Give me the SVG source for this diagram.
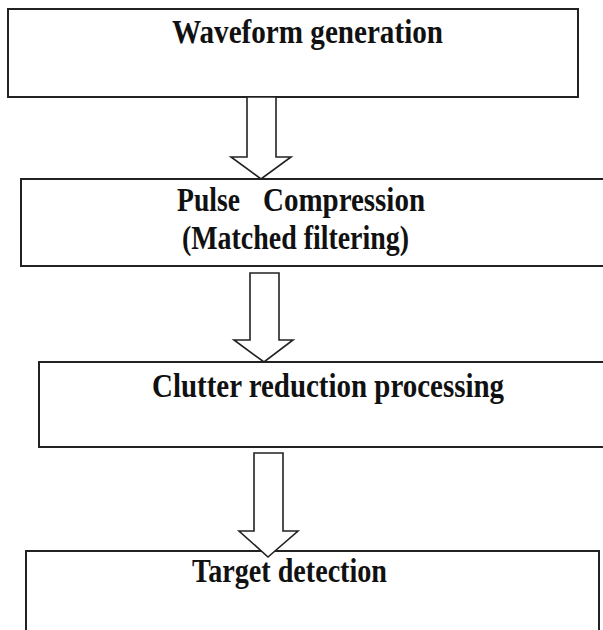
<svg xmlns="http://www.w3.org/2000/svg" width="603" height="630" viewBox="0 0 603 630">
<style>
.box{fill:#fff;stroke:#222;stroke-width:2}
.arr{fill:#fff;stroke:#222;stroke-width:1.6;stroke-linejoin:miter}
.t{font-family:"Liberation Serif","Times New Roman",serif;font-weight:bold;font-size:33px;fill:#111}
</style>
<rect width="603" height="630" fill="#fff"/>
<g id="node1">
<rect class="box" x="8" y="9" width="570" height="88"/>
<text class="t" x="172" y="43" textLength="271" lengthAdjust="spacingAndGlyphs">Waveform generation</text>
</g>
<g id="node2">
<rect class="box" x="21" y="179" width="590" height="87"/>
<text class="t" y="211"><tspan x="177" textLength="63" lengthAdjust="spacingAndGlyphs">Pulse</tspan><tspan x="263" textLength="162" lengthAdjust="spacingAndGlyphs">Compression</tspan></text>
<text class="t" x="182" y="249" textLength="227" lengthAdjust="spacingAndGlyphs">(Matched filtering)</text>
</g>
<g id="node3">
<rect class="box" x="39" y="362" width="570" height="85"/>
<text class="t" x="152" y="397" textLength="352" lengthAdjust="spacingAndGlyphs">Clutter reduction processing</text>
</g>
<g id="node4">
<rect class="box" x="26" y="551" width="573" height="100"/>
<text class="t" x="192" y="582" textLength="195" lengthAdjust="spacingAndGlyphs">Target detection</text>
</g>
<g id="connectors">
<polygon class="arr" points="247,97 276,97 276,157 291,157 261,179 231,157 247,157"/>
<polygon class="arr" points="250,273 279,273 279,340 293,340 264,362 234,340 250,340"/>
<polygon class="arr" points="254,453 283,453 283,531 298,531 268,557 239,531 254,531"/>
</g>
</svg>
